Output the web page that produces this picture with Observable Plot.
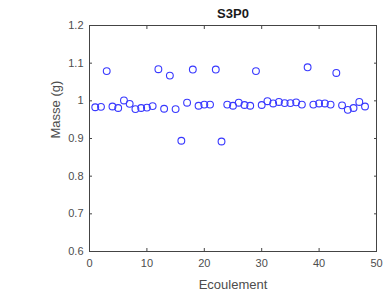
<!DOCTYPE html>
<html>
<head>
<meta charset="utf-8">
<script src="https://cdn.jsdelivr.net/npm/d3@7"></script>
<script src="https://cdn.jsdelivr.net/npm/@observablehq/plot@0.6"></script>
<style>
  html, body { margin: 0; padding: 0; background: #fff; }
  svg { font-family: "Liberation Sans", Arial, sans-serif; }
</style>
</head>
<body>
<div id="chart"></div>
<script>
const title = "S3P0";
const xLabel = "Ecoulement";
const yLabel = "Masse (g)";
const xTicks = [0, 10, 20, 30, 40, 50];
const yTicks = [0.6, 0.7, 0.8, 0.9, 1, 1.1, 1.2];
const ecoulement = d3.range(1, 49);
const masse = [
  0.983, 0.984, 1.079, 0.985, 0.981, 1.001, 0.992, 0.978, 0.981, 0.982,
  0.986, 1.084, 0.979, 1.067, 0.978, 0.894, 0.995, 1.083, 0.987, 0.990,
  0.990, 1.083, 0.892, 0.990, 0.987, 0.995, 0.989, 0.987, 1.079, 0.989,
  0.999, 0.993, 0.997, 0.994, 0.994, 0.996, 0.990, 1.089, 0.990, 0.993,
  0.993, 0.990, 1.074, 0.988, 0.976, 0.981, 0.997, 0.985
];
const data = ecoulement.map((e, i) => ({e, m: masse[i]}));

const gray = "#4d4d4d";
const chart = Plot.plot({
  width: 384,
  height: 294,
  marginTop: 25,
  marginBottom: 43,
  marginLeft: 89,
  marginRight: 8,
  style: {fontFamily: "Liberation Sans, Arial, sans-serif", fontSize: "11px", color: gray, background: "#fff"},
  x: {domain: [0, 50]},
  y: {domain: [0.6, 1.2]},
  marks: [
    Plot.frame({stroke: "#444", strokeWidth: 1}),
    // labels
    Plot.axisX(xTicks, {anchor: "bottom", tickSize: 0, tickPadding: 8, fill: gray, fontSize: 11, label: null}),
    Plot.axisY(yTicks, {anchor: "left", tickSize: 0, tickPadding: 6, fill: gray, fontSize: 11, label: null, tickFormat: d => String(d)}),
    // inward ticks on all sides
    Plot.axisX(xTicks, {anchor: "bottom", tickSize: -3, text: null, label: null, stroke: "#444"}),
    Plot.axisX(xTicks, {anchor: "top", tickSize: -3, text: null, label: null, stroke: "#444"}),
    Plot.axisY(yTicks, {anchor: "left", tickSize: -3, text: null, label: null, stroke: "#444"}),
    Plot.axisY(yTicks, {anchor: "right", tickSize: -3, text: null, label: null, stroke: "#444"}),
    Plot.dot(data, {x: "e", y: "m", r: 3.4, stroke: "#3838ff", strokeWidth: 1.1, fill: "none"}),
    Plot.text([title], {frameAnchor: "top", lineAnchor: "middle", dy: -12, fontWeight: "bold", fontSize: 13, fill: "#1a1a1a"}),
    Plot.text([xLabel], {frameAnchor: "bottom", lineAnchor: "middle", dy: 33, fontSize: 13, fill: gray}),
    Plot.text([yLabel], {frameAnchor: "left", lineAnchor: "middle", dx: -34, rotate: -90, fontSize: 13, fill: gray})
  ]
});
document.getElementById("chart").appendChild(chart);
</script>
</body>
</html>
